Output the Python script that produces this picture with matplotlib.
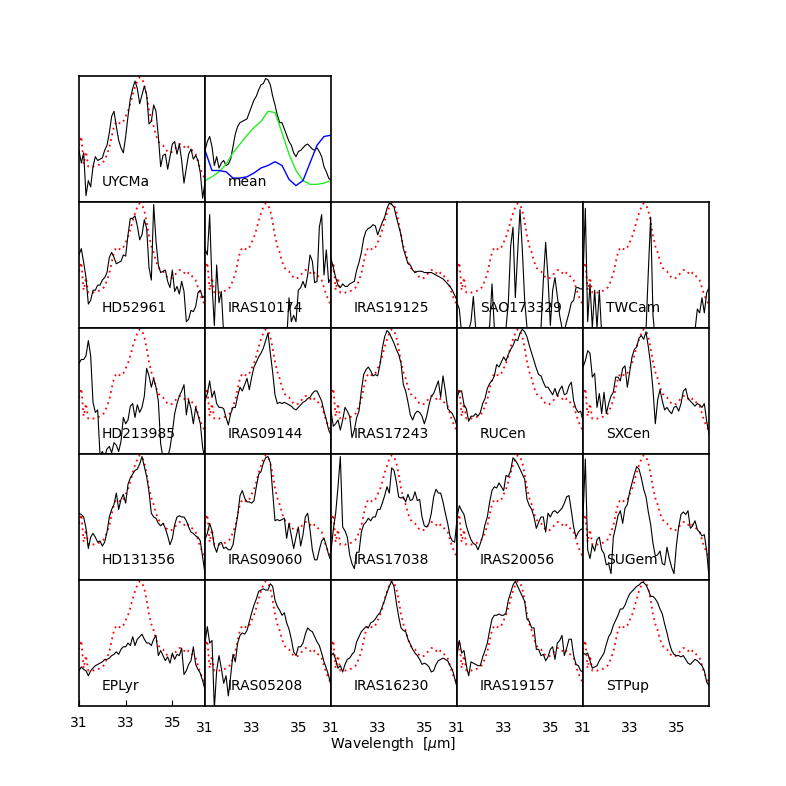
import matplotlib
matplotlib.use("Agg")
import matplotlib.pyplot as plt

# wavelength grid (micron) shared by all spectra
wave = [31.0, 31.1, 31.2, 31.3, 31.4, 31.5, 31.6, 31.7, 31.8, 31.9,
        32.0, 32.1, 32.2, 32.3, 32.4, 32.5, 32.6, 32.7, 32.8, 32.9,
        33.0, 33.1, 33.2, 33.3, 33.4, 33.5, 33.6, 33.7, 33.8, 33.9,
        34.0, 34.1, 34.2, 34.3, 34.4, 34.5, 34.6, 34.7, 34.8, 34.9,
        35.0, 35.1, 35.2, 35.3, 35.4, 35.5, 35.6, 35.7, 35.8, 35.9,
        36.0, 36.1, 36.2, 36.3, 36.4]
wave_coarse = [31.0, 31.3, 31.6, 31.9, 32.2, 32.5, 32.8, 33.1, 33.4, 33.7,
               34.0, 34.3, 34.6, 34.9, 35.2, 35.5, 35.8, 36.1, 36.4]

# red dotted template (normalised)
template = [0.45, 0.52, 0.30, 0.40, 0.28, 0.28, 0.28, 0.29, 0.29, 0.30,
            0.31, 0.33, 0.38, 0.43, 0.52, 0.60, 0.64, 0.63, 0.62, 0.64,
            0.68, 0.72, 0.78, 0.85, 0.91, 0.96, 0.99, 0.98, 0.93, 0.84,
            0.73, 0.65, 0.60, 0.53, 0.48, 0.46, 0.45, 0.42, 0.40, 0.39,
            0.40, 0.42, 0.44, 0.46, 0.46, 0.44, 0.42, 0.44, 0.42, 0.40,
            0.38, 0.32, 0.26, 0.22, 0.18]

uycma = [0.41, 0.31, 0.39, 0.05, 0.17, 0.12, 0.28, 0.36, 0.33, 0.34,
         0.35, 0.41, 0.45, 0.55, 0.68, 0.72, 0.60, 0.49, 0.43, 0.39,
         0.52, 0.68, 0.82, 0.90, 0.96, 0.90, 0.78, 0.85, 0.92, 0.85,
         0.62, 0.64, 0.77, 0.72, 0.52, 0.28, 0.37, 0.38, 0.26, 0.36,
         0.46, 0.48, 0.38, 0.46, 0.33, 0.15, 0.27, 0.38, 0.42, 0.34,
         0.37, 0.33, 0.23, 0.03, 0.16]
mean_obs = [0.41, 0.48, 0.52, 0.44, 0.29, 0.36, 0.27, 0.31, 0.33, 0.29,
            0.30, 0.34, 0.44, 0.54, 0.60, 0.63, 0.64, 0.65, 0.66, 0.71,
            0.76, 0.81, 0.84, 0.89, 0.93, 0.94, 0.98, 0.97, 0.93, 0.84,
            0.77, 0.69, 0.63, 0.63, 0.58, 0.53, 0.48, 0.45, 0.39, 0.36,
            0.40, 0.41, 0.43, 0.45, 0.46, 0.44, 0.42, 0.41, 0.43, 0.40,
            0.36, 0.28, 0.24, 0.19, 0.17]
mean_green = [0.17, 0.20, 0.24, 0.30, 0.39, 0.46, 0.53, 0.59, 0.64, 0.72,
              0.71, 0.55, 0.38, 0.25, 0.17, 0.14, 0.14, 0.15, 0.17]
mean_blue = [0.41, 0.25, 0.25, 0.24, 0.19, 0.19, 0.20, 0.23, 0.27, 0.29,
             0.32, 0.29, 0.18, 0.13, 0.17, 0.31, 0.45, 0.52, 0.53]

hd52961 = [0.58, 0.63, 0.52, 0.40, 0.19, 0.22, 0.30, 0.30, 0.34, 0.34,
           0.38, 0.40, 0.44, 0.56, 0.60, 0.56, 0.51, 0.52, 0.53, 0.58,
           0.57, 0.74, 0.87, 0.87, 0.89, 0.81, 0.70, 0.74, 0.86, 0.79,
           0.48, 0.38, 0.98, 0.69, 0.50, 0.44, 0.45, 0.46, 0.37, 0.32,
           0.46, 0.29, 0.33, 0.27, 0.37, 0.29, 0.05, 0.07, 0.14, 0.13,
           0.17, 0.28, 0.30, 0.24, 0.26]
iras10174 = [0.63, 0.58, 0.90, 0.35, 0.02, 0.50, 0.20, 0.29, -0.05, -0.2,
             -0.2, -0.2, -0.2, -0.2, -0.2, -0.2, -0.2, -0.2, -0.2, -0.2,
             -0.2, -0.2, -0.2, -0.2, -0.2, -0.2, -0.2, -0.2, -0.2, -0.2,
             -0.2, -0.2, -0.2, -0.2, -0.2, -0.1, 0.24, 0.05, 0.10, 0.05,
             0.30, 0.32, 0.37, 0.32, 0.42, 0.58, 0.53, 0.36, 0.37, 0.80,
             0.90, 0.42, 0.62, 0.36, 0.40]
iras19125 = [0.55, 0.48, 0.40, 0.34, 0.32, 0.35, 0.33, 0.33, 0.35, 0.36,
             0.37, 0.46, 0.52, 0.60, 0.71, 0.77, 0.79, 0.80, 0.82, 0.81,
             0.74, 0.79, 0.84, 0.88, 0.95, 0.99, 0.98, 0.96, 0.88, 0.81,
             0.74, 0.63, 0.57, 0.51, 0.50, 0.46, 0.44, 0.45, 0.45, 0.45,
             0.44, 0.44, 0.44, 0.44, 0.43, 0.42, 0.41, 0.40, 0.39, 0.37,
             0.35, 0.33, 0.30, 0.26, 0.22]
sao173329 = [0.20, 0.15, -0.05, -0.1, -0.05, -0.02, 0.05, 0.25, 0.0, -0.1,
             -0.1, -0.05, 0.0, -0.05, 0.02, 0.35, 0.0, -0.05, -0.1, -0.05,
             -0.02, 0.0, 0.20, 0.65, 0.80, 0.24, 0.60, 0.94, 0.62, 0.22,
             0.0, -0.05, -0.02, 0.0, -0.1, -0.05, 0.0, 0.38, 0.68, 0.40,
             0.02, 0.30, 0.40, 0.25, 0.10, 0.0, -0.02, 0.05, 0.12, 0.20,
             0.22, 0.32, 0.32, 0.31, 0.31]
twcam = [0.40, 0.95, 0.05, 0.35, 0.0, 0.30, 0.0, 0.30, -0.05, -0.1,
         -0.1, -0.1, -0.1, -0.1, -0.1, -0.1, -0.1, -0.02, -0.1, -0.1,
         -0.1, -0.1, -0.1, -0.1, -0.1, -0.1, -0.1, -0.02, 0.45, 0.88,
         0.10, -0.1, -0.1, -0.1, -0.1, -0.1, -0.1, -0.1, -0.1, -0.1,
         -0.1, -0.1, -0.1, -0.1, -0.1, -0.1, -0.1, -0.1, -0.02, 0.15,
         0.12, 0.24, 0.12, 0.28, 0.32]

hd213985 = [0.72, 0.75, 0.75, 0.78, 0.90, 0.78, 0.41, 0.33, 0.35, -0.01,
            0.02, -0.02, 0.04, 0.06, 0.01, 0.09, 0.07, 0.02, 0.10, 0.29,
            0.24, 0.27, 0.38, 0.40, 0.29, 0.39, 0.33, 0.37, 0.46, 0.68,
            0.62, 0.53, 0.60, 0.53, 0.42, 0.08, -0.03, -0.05, -0.03, 0.05,
            0.17, 0.32, 0.40, 0.46, 0.50, 0.55, 0.31, 0.43, 0.36, 0.24,
            0.37, 0.31, 0.24, 0.05, -0.05]
iras09144 = [0.42, 0.48, 0.58, 0.45, 0.50, 0.40, 0.37, 0.37, 0.36, 0.29,
             0.23, 0.32, 0.37, 0.37, 0.46, 0.53, 0.50, 0.55, 0.60, 0.51,
             0.61, 0.69, 0.73, 0.77, 0.80, 0.84, 0.90, 0.96, 0.80, 0.65,
             0.47, 0.40, 0.41, 0.40, 0.41, 0.40, 0.39, 0.38, 0.36, 0.35,
             0.37, 0.39, 0.41, 0.42, 0.44, 0.45, 0.48, 0.50, 0.50, 0.46,
             0.42, 0.34, 0.27, 0.19, 0.15]
iras17243 = [0.34, 0.22, 0.24, 0.27, 0.19, 0.27, 0.37, 0.34, 0.30, 0.13,
             0.19, 0.29, 0.34, 0.50, 0.63, 0.67, 0.69, 0.66, 0.62, 0.63,
             0.62, 0.71, 0.84, 0.93, 0.98, 0.96, 0.92, 0.88, 0.83, 0.79,
             0.72, 0.55, 0.50, 0.41, 0.31, 0.27, 0.32, 0.34, 0.33, 0.30,
             0.24, 0.30, 0.39, 0.46, 0.48, 0.53, 0.58, 0.45, 0.62, 0.50,
             0.36, 0.34, 0.32, 0.28, 0.22]
rucen = [0.45, 0.50, 0.50, 0.39, 0.36, 0.26, 0.30, 0.30, 0.32, 0.30,
         0.33, 0.40, 0.44, 0.52, 0.56, 0.58, 0.62, 0.71, 0.69, 0.73,
         0.77, 0.74, 0.79, 0.83, 0.86, 0.91, 0.90, 0.96, 0.99, 0.97,
         0.93, 0.86, 0.80, 0.74, 0.68, 0.63, 0.62, 0.57, 0.53, 0.53,
         0.50, 0.47, 0.52, 0.46, 0.51, 0.54, 0.47, 0.48, 0.54, 0.57,
         0.42, 0.36, 0.33, 0.34, 0.26]
sxcen = [0.69, 0.74, 0.82, 0.80, 0.61, 0.64, 0.37, 0.48, 0.32, 0.49,
         0.32, 0.40, 0.46, 0.49, 0.61, 0.61, 0.58, 0.68, 0.70, 0.53,
         0.65, 0.77, 0.83, 0.85, 0.92, 0.94, 0.91, 0.97, 0.85, 0.71,
         0.51, 0.24, 0.43, 0.51, 0.42, 0.35, 0.37, 0.34, 0.32, 0.37,
         0.38, 0.34, 0.40, 0.50, 0.52, 0.44, 0.42, 0.40, 0.38, 0.40,
         0.39, 0.37, 0.40, 0.26, 0.16]

hd131356 = [0.53, 0.52, 0.50, 0.41, 0.25, 0.34, 0.37, 0.34, 0.30, 0.31,
            0.27, 0.30, 0.38, 0.50, 0.56, 0.60, 0.69, 0.56, 0.64, 0.68,
            0.61, 0.76, 0.81, 0.84, 0.87, 0.88, 0.92, 0.98, 0.90, 0.82,
            0.70, 0.53, 0.50, 0.49, 0.45, 0.43, 0.45, 0.41, 0.35, 0.28,
            0.33, 0.44, 0.50, 0.51, 0.50, 0.50, 0.47, 0.42, 0.38, 0.37,
            0.35, 0.34, 0.31, 0.18, 0.05]
iras09060 = [0.32, 0.37, 0.45, 0.39, 0.27, 0.22, 0.29, 0.30, 0.25, 0.26,
             0.24, 0.24, 0.28, 0.40, 0.51, 0.67, 0.71, 0.65, 0.62, 0.62,
             0.61, 0.63, 0.74, 0.84, 0.86, 0.93, 0.97, 0.98, 0.93, 0.70,
             0.47, 0.48, 0.47, 0.48, 0.49, 0.33, 0.45, 0.35, 0.25, 0.34,
             0.42, 0.27, 0.36, 0.50, 0.53, 0.40, 0.24, 0.16, 0.16, 0.24,
             0.31, 0.33, 0.27, 0.20, 0.15]
iras17038 = [0.23, 0.40, 0.53, 0.74, 0.98, 0.42, 0.39, 0.34, 0.20, 0.13,
             0.09, 0.22, 0.22, 0.38, 0.44, 0.46, 0.49, 0.47, 0.50, 0.50,
             0.56, 0.56, 0.61, 0.67, 0.74, 0.69, 0.89, 0.87, 0.78, 0.66,
             0.65, 0.66, 0.62, 0.68, 0.63, 0.64, 0.70, 0.63, 0.64, 0.50,
             0.43, 0.42, 0.45, 0.53, 0.66, 0.72, 0.69, 0.69, 0.62, 0.53,
             0.45, 0.35, 0.31, 0.30, 0.48]
iras20056 = [0.50, 0.59, 0.55, 0.52, 0.43, 0.37, 0.32, 0.29, 0.28, 0.24,
             0.29, 0.35, 0.44, 0.50, 0.62, 0.71, 0.74, 0.73, 0.77, 0.74,
             0.71, 0.83, 0.82, 0.87, 0.97, 0.95, 0.92, 0.88, 0.84, 0.80,
             0.64, 0.59, 0.56, 0.50, 0.41, 0.46, 0.50, 0.50, 0.38, 0.53,
             0.50, 0.54, 0.55, 0.53, 0.55, 0.57, 0.61, 0.66, 0.67, 0.55,
             0.42, 0.34, 0.38, 0.40, 0.41]
sugem = [0.50, 0.96, 0.24, 0.17, 0.28, 0.23, 0.32, 0.34, 0.24, 0.21,
         0.12, 0.13, 0.05, 0.34, 0.42, 0.51, 0.55, 0.45, 0.57, 0.60,
         0.70, 0.77, 0.84, 0.90, 0.88, 0.81, 0.72, 0.66, 0.54, 0.44,
         0.29, 0.19, 0.20, 0.23, 0.13, 0.12, 0.26, 0.17, 0.10, 0.05,
         0.27, 0.42, 0.52, 0.54, 0.52, 0.55, 0.41, 0.43, 0.47, 0.40,
         0.38, 0.35, 0.36, 0.23, 0.02]

eplyr = [0.28, 0.31, 0.29, 0.28, 0.24, 0.28, 0.30, 0.32, 0.33, 0.34,
         0.35, 0.37, 0.37, 0.38, 0.40, 0.41, 0.43, 0.41, 0.45, 0.47,
         0.47, 0.50, 0.48, 0.55, 0.48, 0.53, 0.55, 0.57, 0.53, 0.50,
         0.50, 0.48, 0.53, 0.56, 0.40, 0.44, 0.40, 0.36, 0.39, 0.34,
         0.42, 0.37, 0.41, 0.40, 0.46, 0.25, 0.28, 0.33, 0.36, 0.47,
         0.33, 0.29, 0.26, 0.20, 0.13]
iras05208 = [0.50, 0.63, 0.50, 0.52, -0.02, 0.28, 0.40, 0.30, 0.18, 0.24,
             0.08, 0.24, 0.41, 0.35, 0.50, 0.56, 0.58, 0.57, 0.60, 0.67,
             0.74, 0.80, 0.85, 0.91, 0.92, 0.93, 0.92, 0.92, 0.97, 0.95,
             0.84, 0.79, 0.76, 0.72, 0.74, 0.66, 0.61, 0.53, 0.43, 0.40,
             0.47, 0.47, 0.50, 0.57, 0.62, 0.60, 0.59, 0.55, 0.51, 0.48,
             0.42, 0.35, 0.30, 0.24, 0.16]
iras16230 = [0.40, 0.42, 0.37, 0.30, 0.32, 0.27, 0.33, 0.37, 0.38, 0.41,
             0.43, 0.51, 0.55, 0.59, 0.61, 0.63, 0.62, 0.66, 0.67, 0.69,
             0.72, 0.74, 0.79, 0.84, 0.90, 0.95, 0.99, 0.95, 0.82, 0.71,
             0.62, 0.60, 0.59, 0.53, 0.49, 0.45, 0.42, 0.40, 0.37, 0.33,
             0.34, 0.33, 0.31, 0.27, 0.28, 0.33, 0.36, 0.37, 0.38, 0.37,
             0.36, 0.32, 0.29, 0.22, 0.15]
iras19157 = [0.40, 0.52, 0.42, 0.44, 0.32, 0.24, 0.35, 0.34, 0.33, 0.32,
             0.32, 0.39, 0.44, 0.50, 0.60, 0.69, 0.72, 0.72, 0.73, 0.72,
             0.72, 0.74, 0.84, 0.90, 0.96, 0.99, 0.95, 0.91, 0.87, 0.83,
             0.69, 0.67, 0.62, 0.62, 0.45, 0.45, 0.40, 0.41, 0.36, 0.39,
             0.45, 0.47, 0.37, 0.50, 0.52, 0.56, 0.40, 0.46, 0.53, 0.53,
             0.40, 0.33, 0.32, 0.28, 0.27]
stpup = [0.42, 0.41, 0.42, 0.36, 0.30, 0.31, 0.32, 0.36, 0.39, 0.42,
         0.49, 0.55, 0.58, 0.64, 0.68, 0.72, 0.77, 0.77, 0.80, 0.85,
         0.89, 0.91, 0.93, 0.95, 0.96, 0.98, 0.98, 0.96, 0.92, 0.87,
         0.87, 0.85, 0.82, 0.77, 0.73, 0.65, 0.58, 0.50, 0.44, 0.41,
         0.40, 0.40, 0.39, 0.40, 0.37, 0.34, 0.33, 0.35, 0.37, 0.36,
         0.34, 0.32, 0.28, 0.19, 0.16]

# (row, col, label, spectrum)
panels = [
    (0, 0, "UYCMa", uycma),
    (1, 0, "HD52961", hd52961), (1, 1, "IRAS10174", iras10174),
    (1, 2, "IRAS19125", iras19125), (1, 3, "SAO173329", sao173329),
    (1, 4, "TWCam", twcam),
    (2, 0, "HD213985", hd213985), (2, 1, "IRAS09144", iras09144),
    (2, 2, "IRAS17243", iras17243), (2, 3, "RUCen", rucen),
    (2, 4, "SXCen", sxcen),
    (3, 0, "HD131356", hd131356), (3, 1, "IRAS09060", iras09060),
    (3, 2, "IRAS17038", iras17038), (3, 3, "IRAS20056", iras20056),
    (3, 4, "SUGem", sugem),
    (4, 0, "EPLyr", eplyr), (4, 1, "IRAS05208", iras05208),
    (4, 2, "IRAS16230", iras16230), (4, 3, "IRAS19157", iras19157),
    (4, 4, "STPup", stpup),
]

W = 786.0
left0, top0, size = 79.0, 76.0, 126.0


def make_ax(fig, row, col):
    x0 = (left0 + col * size) / W
    y0 = 1 - (top0 + (row + 1) * size) / W
    ax = fig.add_axes([x0, y0, size / W, size / W])
    ax.set_xlim(31, 36.4)
    ax.set_ylim(0, 1)
    ax.set_yticks([])
    ax.set_xticks([])
    for s in ax.spines.values():
        s.set_linewidth(1.2)
    return ax


def add_label(ax, text):
    ax.text(0.18, 0.16, text, transform=ax.transAxes, ha="left",
            va="center", fontsize=10, zorder=5)


fig = plt.figure(figsize=(7.86, 7.86), dpi=100)

for row, col, name, spec in panels:
    ax = make_ax(fig, row, col)
    ax.plot(wave, template, color="red", lw=1.3, ls=(0, (1, 2.2)))
    ax.plot(wave, spec, color="black", lw=0.8)
    add_label(ax, name)
    if row == 4:
        ax.set_xticks([31, 33, 35])
        ax.set_xticklabels(["31", "33", "35"], fontsize=10)
        if col == 0:
            ax.tick_params(axis="x", direction="in", length=4, pad=7)
        else:
            ax.tick_params(axis="x", direction="in", length=0, pad=11)

# mean panel
ax = make_ax(fig, 0, 1)
ax.plot(wave, mean_obs, color="black", lw=0.8)
ax.plot(wave_coarse, mean_green, color="#22ee22", lw=1.0)
ax.plot(wave_coarse, mean_blue, color="#0000ff", lw=1.0)
add_label(ax, "mean")

fig.text(393 / W, 1 - 744 / W, r"Wavelength  [$\mu$m]", ha="center",
         va="center", fontsize=10)

fig.savefig("out.png", dpi=100)
